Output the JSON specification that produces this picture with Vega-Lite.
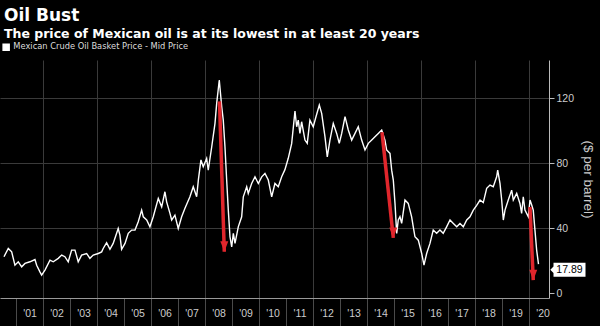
{
  "$schema": "https://vega.github.io/schema/vega-lite/v6.json",
  "width": 549,
  "height": 238,
  "autosize": {"type": "none"},
  "padding": {"left": 0, "top": 60, "right": 51, "bottom": 28},
  "background": "#000000",
  "title": {
    "text": "Oil Bust",
    "subtitle": "The price of Mexican oil is at its lowest in at least 20 years",
    "anchor": "start",
    "frame": "group",
    "orient": "top",
    "offset": 2,
    "font": "DejaVu Sans",
    "fontSize": 17,
    "fontWeight": "bold",
    "color": "#ffffff",
    "subtitleFont": "DejaVu Sans",
    "subtitleFontSize": 12.5,
    "subtitleFontWeight": "bold",
    "subtitleColor": "#ffffff",
    "subtitlePadding": 3,
    "dx": 4
  },
  "datasets": {
    "oil": [
      {"date": "2000-07-22", "price": 22.4},
      {"date": "2000-09-18", "price": 27.5},
      {"date": "2000-11-03", "price": 25.4},
      {"date": "2000-12-17", "price": 17.2},
      {"date": "2001-01-31", "price": 19.3},
      {"date": "2001-03-18", "price": 16.2},
      {"date": "2001-05-02", "price": 18.3},
      {"date": "2001-07-08", "price": 19.3},
      {"date": "2001-09-14", "price": 20.7},
      {"date": "2001-10-07", "price": 17.2},
      {"date": "2001-11-20", "price": 13.1},
      {"date": "2001-12-13", "price": 11.1},
      {"date": "2002-01-27", "price": 14.2},
      {"date": "2002-04-05", "price": 20.3},
      {"date": "2002-05-19", "price": 19.3},
      {"date": "2002-07-26", "price": 21.4},
      {"date": "2002-09-10", "price": 23.4},
      {"date": "2002-10-24", "price": 22.4},
      {"date": "2002-12-08", "price": 19.3},
      {"date": "2003-01-23", "price": 26.5},
      {"date": "2003-03-09", "price": 26.5},
      {"date": "2003-04-22", "price": 19.3},
      {"date": "2003-06-07", "price": 23.4},
      {"date": "2003-08-14", "price": 24.4},
      {"date": "2003-09-27", "price": 21.4},
      {"date": "2003-11-11", "price": 23.4},
      {"date": "2004-01-18", "price": 24.4},
      {"date": "2004-03-04", "price": 25.4},
      {"date": "2004-03-25", "price": 27.5},
      {"date": "2004-05-10", "price": 31.0},
      {"date": "2004-06-24", "price": 27.0},
      {"date": "2004-08-07", "price": 30.6},
      {"date": "2004-10-14", "price": 39.8},
      {"date": "2004-11-06", "price": 35.7},
      {"date": "2004-11-29", "price": 27.0},
      {"date": "2005-01-14", "price": 30.6},
      {"date": "2005-02-27", "price": 36.8},
      {"date": "2005-04-14", "price": 38.8},
      {"date": "2005-05-29", "price": 38.8},
      {"date": "2005-07-12", "price": 43.9},
      {"date": "2005-08-27", "price": 51.1},
      {"date": "2005-09-18", "price": 47.0},
      {"date": "2005-11-03", "price": 45.0},
      {"date": "2005-12-17", "price": 40.8},
      {"date": "2006-01-31", "price": 47.0},
      {"date": "2006-04-09", "price": 58.3},
      {"date": "2006-05-25", "price": 53.1},
      {"date": "2006-07-08", "price": 62.4},
      {"date": "2006-07-31", "price": 56.2},
      {"date": "2006-09-14", "price": 49.1},
      {"date": "2006-10-07", "price": 45.0},
      {"date": "2006-11-20", "price": 48.0},
      {"date": "2007-01-04", "price": 39.8},
      {"date": "2007-02-19", "price": 47.0},
      {"date": "2007-04-05", "price": 52.2},
      {"date": "2007-06-11", "price": 59.3},
      {"date": "2007-07-26", "price": 65.5},
      {"date": "2007-09-10", "price": 59.3},
      {"date": "2007-10-04", "price": 70.0},
      {"date": "2007-11-07", "price": 82.0},
      {"date": "2007-12-08", "price": 77.8},
      {"date": "2008-01-23", "price": 82.9},
      {"date": "2008-02-14", "price": 75.7},
      {"date": "2008-04-01", "price": 90.1},
      {"date": "2008-05-15", "price": 104.5},
      {"date": "2008-06-07", "price": 116.8},
      {"date": "2008-07-12", "price": 131.2},
      {"date": "2008-08-14", "price": 114.7},
      {"date": "2008-09-04", "price": 106.5},
      {"date": "2008-09-27", "price": 90.1},
      {"date": "2008-10-20", "price": 69.6},
      {"date": "2008-11-11", "price": 51.1},
      {"date": "2008-12-04", "price": 34.7},
      {"date": "2008-12-27", "price": 28.5},
      {"date": "2009-01-18", "price": 36.8},
      {"date": "2009-02-10", "price": 30.6},
      {"date": "2009-03-26", "price": 40.8},
      {"date": "2009-05-11", "price": 47.0},
      {"date": "2009-06-02", "price": 59.3},
      {"date": "2009-07-18", "price": 65.5},
      {"date": "2009-08-08", "price": 61.4},
      {"date": "2009-09-23", "price": 67.5},
      {"date": "2009-11-07", "price": 71.6},
      {"date": "2009-12-22", "price": 67.5},
      {"date": "2010-02-06", "price": 71.6},
      {"date": "2010-03-22", "price": 73.7},
      {"date": "2010-05-06", "price": 69.6},
      {"date": "2010-06-21", "price": 59.3},
      {"date": "2010-08-04", "price": 67.5},
      {"date": "2010-09-18", "price": 65.5},
      {"date": "2010-11-03", "price": 71.6},
      {"date": "2010-12-17", "price": 76.0},
      {"date": "2011-01-31", "price": 83.0},
      {"date": "2011-03-18", "price": 92.0},
      {"date": "2011-05-02", "price": 112.0},
      {"date": "2011-05-25", "price": 102.4},
      {"date": "2011-06-15", "price": 106.5},
      {"date": "2011-07-08", "price": 98.3},
      {"date": "2011-07-31", "price": 105.5},
      {"date": "2011-09-14", "price": 94.2},
      {"date": "2011-10-15", "price": 92.2},
      {"date": "2011-11-20", "price": 106.5},
      {"date": "2012-01-04", "price": 102.4},
      {"date": "2012-02-10", "price": 108.6},
      {"date": "2012-03-26", "price": 115.8},
      {"date": "2012-04-27", "price": 110.7},
      {"date": "2012-06-11", "price": 96.2},
      {"date": "2012-07-12", "price": 83.9},
      {"date": "2012-08-17", "price": 94.2},
      {"date": "2012-10-01", "price": 104.5},
      {"date": "2012-11-16", "price": 98.3},
      {"date": "2012-12-21", "price": 92.2},
      {"date": "2013-01-23", "price": 98.3},
      {"date": "2013-03-09", "price": 108.6},
      {"date": "2013-04-22", "price": 100.4},
      {"date": "2013-06-07", "price": 94.2},
      {"date": "2013-07-22", "price": 98.3},
      {"date": "2013-09-04", "price": 102.4},
      {"date": "2013-10-20", "price": 94.2},
      {"date": "2013-12-04", "price": 88.1},
      {"date": "2014-01-18", "price": 92.2},
      {"date": "2014-03-05", "price": 94.2},
      {"date": "2014-04-18", "price": 96.2},
      {"date": "2014-06-02", "price": 98.3},
      {"date": "2014-07-18", "price": 100.4},
      {"date": "2014-08-31", "price": 94.2},
      {"date": "2014-09-23", "price": 88.1},
      {"date": "2014-11-07", "price": 86.0},
      {"date": "2014-11-30", "price": 75.7},
      {"date": "2014-12-22", "price": 69.6},
      {"date": "2015-01-14", "price": 55.2},
      {"date": "2015-02-06", "price": 36.8},
      {"date": "2015-02-27", "price": 45.0},
      {"date": "2015-03-22", "price": 47.0},
      {"date": "2015-04-14", "price": 42.9},
      {"date": "2015-05-29", "price": 57.3},
      {"date": "2015-07-12", "price": 55.2},
      {"date": "2015-08-27", "price": 47.0},
      {"date": "2015-09-18", "price": 40.8},
      {"date": "2015-10-11", "price": 34.7},
      {"date": "2015-11-25", "price": 32.6},
      {"date": "2016-01-10", "price": 24.4},
      {"date": "2016-02-10", "price": 17.2},
      {"date": "2016-03-17", "price": 24.4},
      {"date": "2016-05-01", "price": 30.6},
      {"date": "2016-06-14", "price": 38.8},
      {"date": "2016-07-30", "price": 36.8},
      {"date": "2016-09-13", "price": 38.8},
      {"date": "2016-10-27", "price": 36.8},
      {"date": "2016-12-12", "price": 40.8},
      {"date": "2017-01-27", "price": 45.0},
      {"date": "2017-03-13", "price": 42.9},
      {"date": "2017-04-28", "price": 40.8},
      {"date": "2017-06-11", "price": 42.9},
      {"date": "2017-07-26", "price": 40.8},
      {"date": "2017-09-10", "price": 45.0},
      {"date": "2017-10-24", "price": 47.0},
      {"date": "2017-12-08", "price": 51.1},
      {"date": "2018-01-23", "price": 54.0},
      {"date": "2018-03-09", "price": 57.3},
      {"date": "2018-04-22", "price": 55.7},
      {"date": "2018-06-07", "price": 64.5},
      {"date": "2018-07-22", "price": 66.5},
      {"date": "2018-09-04", "price": 65.5},
      {"date": "2018-10-20", "price": 71.6},
      {"date": "2018-11-03", "price": 75.7},
      {"date": "2018-12-04", "price": 67.5},
      {"date": "2018-12-27", "price": 57.3},
      {"date": "2019-01-18", "price": 45.0},
      {"date": "2019-02-10", "price": 51.1},
      {"date": "2019-03-26", "price": 57.3},
      {"date": "2019-05-11", "price": 63.4},
      {"date": "2019-06-02", "price": 57.3},
      {"date": "2019-07-18", "price": 61.4},
      {"date": "2019-08-31", "price": 55.2},
      {"date": "2019-09-23", "price": 49.1},
      {"date": "2019-10-15", "price": 59.3},
      {"date": "2019-11-07", "price": 51.1},
      {"date": "2019-12-22", "price": 47.0},
      {"date": "2020-01-14", "price": 57.3},
      {"date": "2020-02-06", "price": 54.2},
      {"date": "2020-02-27", "price": 51.1},
      {"date": "2020-03-21", "price": 38.8},
      {"date": "2020-04-13", "price": 26.5},
      {"date": "2020-05-08", "price": 17.89}
    ],
    "arrows": [
      {"date": "2008-07-15", "price": 118, "date_end": "2008-09-18", "price_end": 25.5},
      {"date": "2014-07-22", "price": 99, "date_end": "2014-12-22", "price_end": 34},
      {"date": "2020-01-14", "price": 53, "date_end": "2020-02-27", "price_end": 8}
    ],
    "last": [
      {"date": "2020-05-08", "price": 17.89}
    ]
  },
  "layer": [
    {
      "data": {"name": "oil"},
      "mark": {"type": "line", "color": "#ffffff", "strokeWidth": 1.4},
      "encoding": {
        "x": {
          "field": "date",
          "type": "temporal",
          "scale": {"domain": ["2000-05-29", "2020-09-27"], "nice": false},
          "axis": {
            "title": null,
            "tickCount": {"interval": "year", "step": 1},
            "format": "'%y",
            "labelOffset": 13.5,
            "tickSize": 28,
            "tickColor": "#4a4a4a",
            "labelPadding": -18,
            "labelColor": "#cccccc",
            "labelFont": "Liberation Sans",
            "labelFontSize": 10.5,
            "labelAlign": "center",
            "labelBaseline": "top",
            "labelFlush": false,
            "labelOverlap": false,
            "grid": true,
            "gridColor": "#3a3a3a",
            "gridOpacity": {"condition": {"test": "year(datum.value) % 2 === 0", "value": 1}, "value": 0},
            "domainColor": "#999999"
          }
        },
        "y": {
          "field": "price",
          "type": "quantitative",
          "scale": {"domain": [-3, 143.5], "nice": false, "zero": false},
          "axis": {
            "orient": "right",
            "values": [0, 10, 20, 30, 40, 50, 60, 70, 80, 90, 100, 110, 120, 130, 140],
            "labelExpr": "datum.value % 20 === 0 ? datum.label : ''",
            "labelOverlap": false,
            "labelSeparation": -60,
            "labelBound": false,
            "tickSize": {"condition": {"test": "datum.value % 20 === 0", "value": 5}, "value": 2.5},
            "tickColor": "#bbbbbb",
            "domainColor": "#bbbbbb",
            "grid": true,
            "gridColor": "#3a3a3a",
            "gridOpacity": {"condition": {"test": "datum.value % 40 === 0 && datum.value > 0", "value": 1}, "value": 0},
            "labelColor": "#cccccc",
            "labelFont": "Liberation Sans",
            "labelFontSize": 10.5,
            "labelPadding": 2,
            "title": "($ per barrel)",
            "titleColor": "#cccccc",
            "titleFont": "Liberation Sans",
            "titleFontSize": 13.5,
            "titleFontWeight": "normal",
            "titleAngle": 90,
            "titleAlign": "center",
            "titleBaseline": "middle",
            "titleX": 38,
            "titleY": 119
          }
        },
        "color": {
          "datum": "Mexican Crude Oil Basket Price - Mid Price",
          "type": "nominal",
          "scale": {"range": ["#ffffff"]},
          "legend": {
            "orient": "none",
            "legendX": 2,
            "legendY": -17,
            "title": null,
            "symbolType": "square",
            "symbolSize": 36,
            "symbolFillColor": "#ffffff",
            "symbolStrokeColor": "#ffffff",
            "labelColor": "#dddddd",
            "labelFont": "DejaVu Sans",
            "labelFontSize": 8.3,
            "labelOffset": 3,
            "labelLimit": 400
          }
        }
      }
    },
    {
      "data": {"name": "arrows"},
      "mark": {"type": "rule", "color": "#e0262c", "strokeWidth": 3.5},
      "encoding": {
        "x": {"field": "date", "type": "temporal"},
        "y": {"field": "price", "type": "quantitative"},
        "x2": {"field": "date_end"},
        "y2": {"field": "price_end"}
      }
    },
    {
      "data": {"name": "arrows"},
      "mark": {"type": "point", "shape": "M-1,-1.6L1,-1.6L0,1Z", "size": 64, "filled": true, "color": "#e0262c", "opacity": 1, "yOffset": -4},
      "encoding": {
        "x": {"field": "date_end", "type": "temporal"},
        "y": {"field": "price_end", "type": "quantitative"}
      }
    },
    {
      "data": {"name": "last"},
      "mark": {"type": "point", "shape": "M-1.2,0L-1,-0.2L-1,-0.4375L1,-0.4375L1,0.4375L-1,0.4375L-1,0.2Z", "size": 1024, "filled": true, "color": "#ffffff", "opacity": 1, "xOffset": 31, "yOffset": 5.7},
      "encoding": {
        "x": {"field": "date", "type": "temporal"},
        "y": {"field": "price", "type": "quantitative"}
      }
    },
    {
      "data": {"name": "last"},
      "mark": {"type": "text", "color": "#000000", "font": "Liberation Sans", "fontSize": 10.5, "align": "center", "baseline": "middle", "xOffset": 31, "yOffset": 6},
      "encoding": {
        "x": {"field": "date", "type": "temporal"},
        "y": {"field": "price", "type": "quantitative"},
        "text": {"field": "price", "type": "quantitative", "format": ".2f"}
      }
    }
  ],
  "config": {
    "view": {"stroke": null},
    "axis": {"labelOverlap": false},
    "axisY": {"labelOverlap": false},
    "axisRight": {"labelOverlap": false}
  }
}
